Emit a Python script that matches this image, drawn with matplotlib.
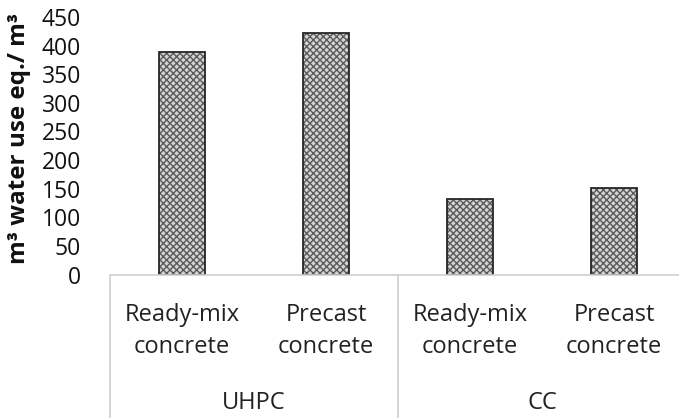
import matplotlib
matplotlib.use("Agg")
import matplotlib.pyplot as plt
from matplotlib.transforms import blended_transform_factory

plt.rcParams['font.family'] = ['Open Sans', 'DejaVu Sans']
plt.rcParams['hatch.linewidth'] = 1.0

categories = ["Ready-mix\nconcrete", "Precast\nconcrete", "Ready-mix\nconcrete", "Precast\nconcrete"]
groups = ["UHPC", "CC"]
values = [388, 422, 132, 152]
yticks = [0, 50, 100, 150, 200, 250, 300, 350, 400, 450]
ylabel = "m³ water use eq./ m³"

W, H = 679, 418
fig = plt.figure(figsize=(W / 100, H / 100), dpi=100)
x0, zero_y, top_y = 110, 274.5, 17
ax = fig.add_axes([x0 / W, (H - zero_y) / H, 576 / W, (zero_y - top_y) / H])

xs = list(range(len(values)))
ax.bar(xs, values, width=0.32, color="#d4d4d4", edgecolor="#5a5a5a", hatch="xxxxx", linewidth=0)
ax.bar(xs, values, width=0.32, facecolor="none", edgecolor="#262626", linewidth=1.3)

ax.set_xlim(-0.5, 3.5)
ax.set_ylim(0, 450)
ax.set_yticks(yticks)
ax.tick_params(axis="y", length=0, labelsize=16.5, pad=21, labelcolor="#111111")
ax.set_xticks([])
for s in ["top", "right", "left"]:
    ax.spines[s].set_visible(False)
ax.spines["bottom"].set_color("#d0d0d0")
ax.spines["bottom"].set_linewidth(1.2)

fig.text(19 / W, 1 - 138 / H, ylabel, rotation=90, ha="center", va="center",
         fontsize=17.5, fontweight="bold", color="#111111")

tr = blended_transform_factory(ax.transData, fig.transFigure)
for xv in [-0.5, 1.5, 3.5]:
    ax.plot([xv, xv], [0, (H - zero_y) / H], color="#d0d0d0", lw=1.2, transform=tr, clip_on=False)

for i, c in enumerate(categories):
    ax.text(i, (H - 331) / H, c, transform=tr, ha="center", va="center",
            fontsize=17, color="#222222", linespacing=1.45)
for g, gname in enumerate(groups):
    ax.text(0.5 + 2 * g, (H - 403) / H, gname, transform=tr, ha="center", va="center",
            fontsize=17, color="#222222")

fig.savefig("out.png", dpi=100)
